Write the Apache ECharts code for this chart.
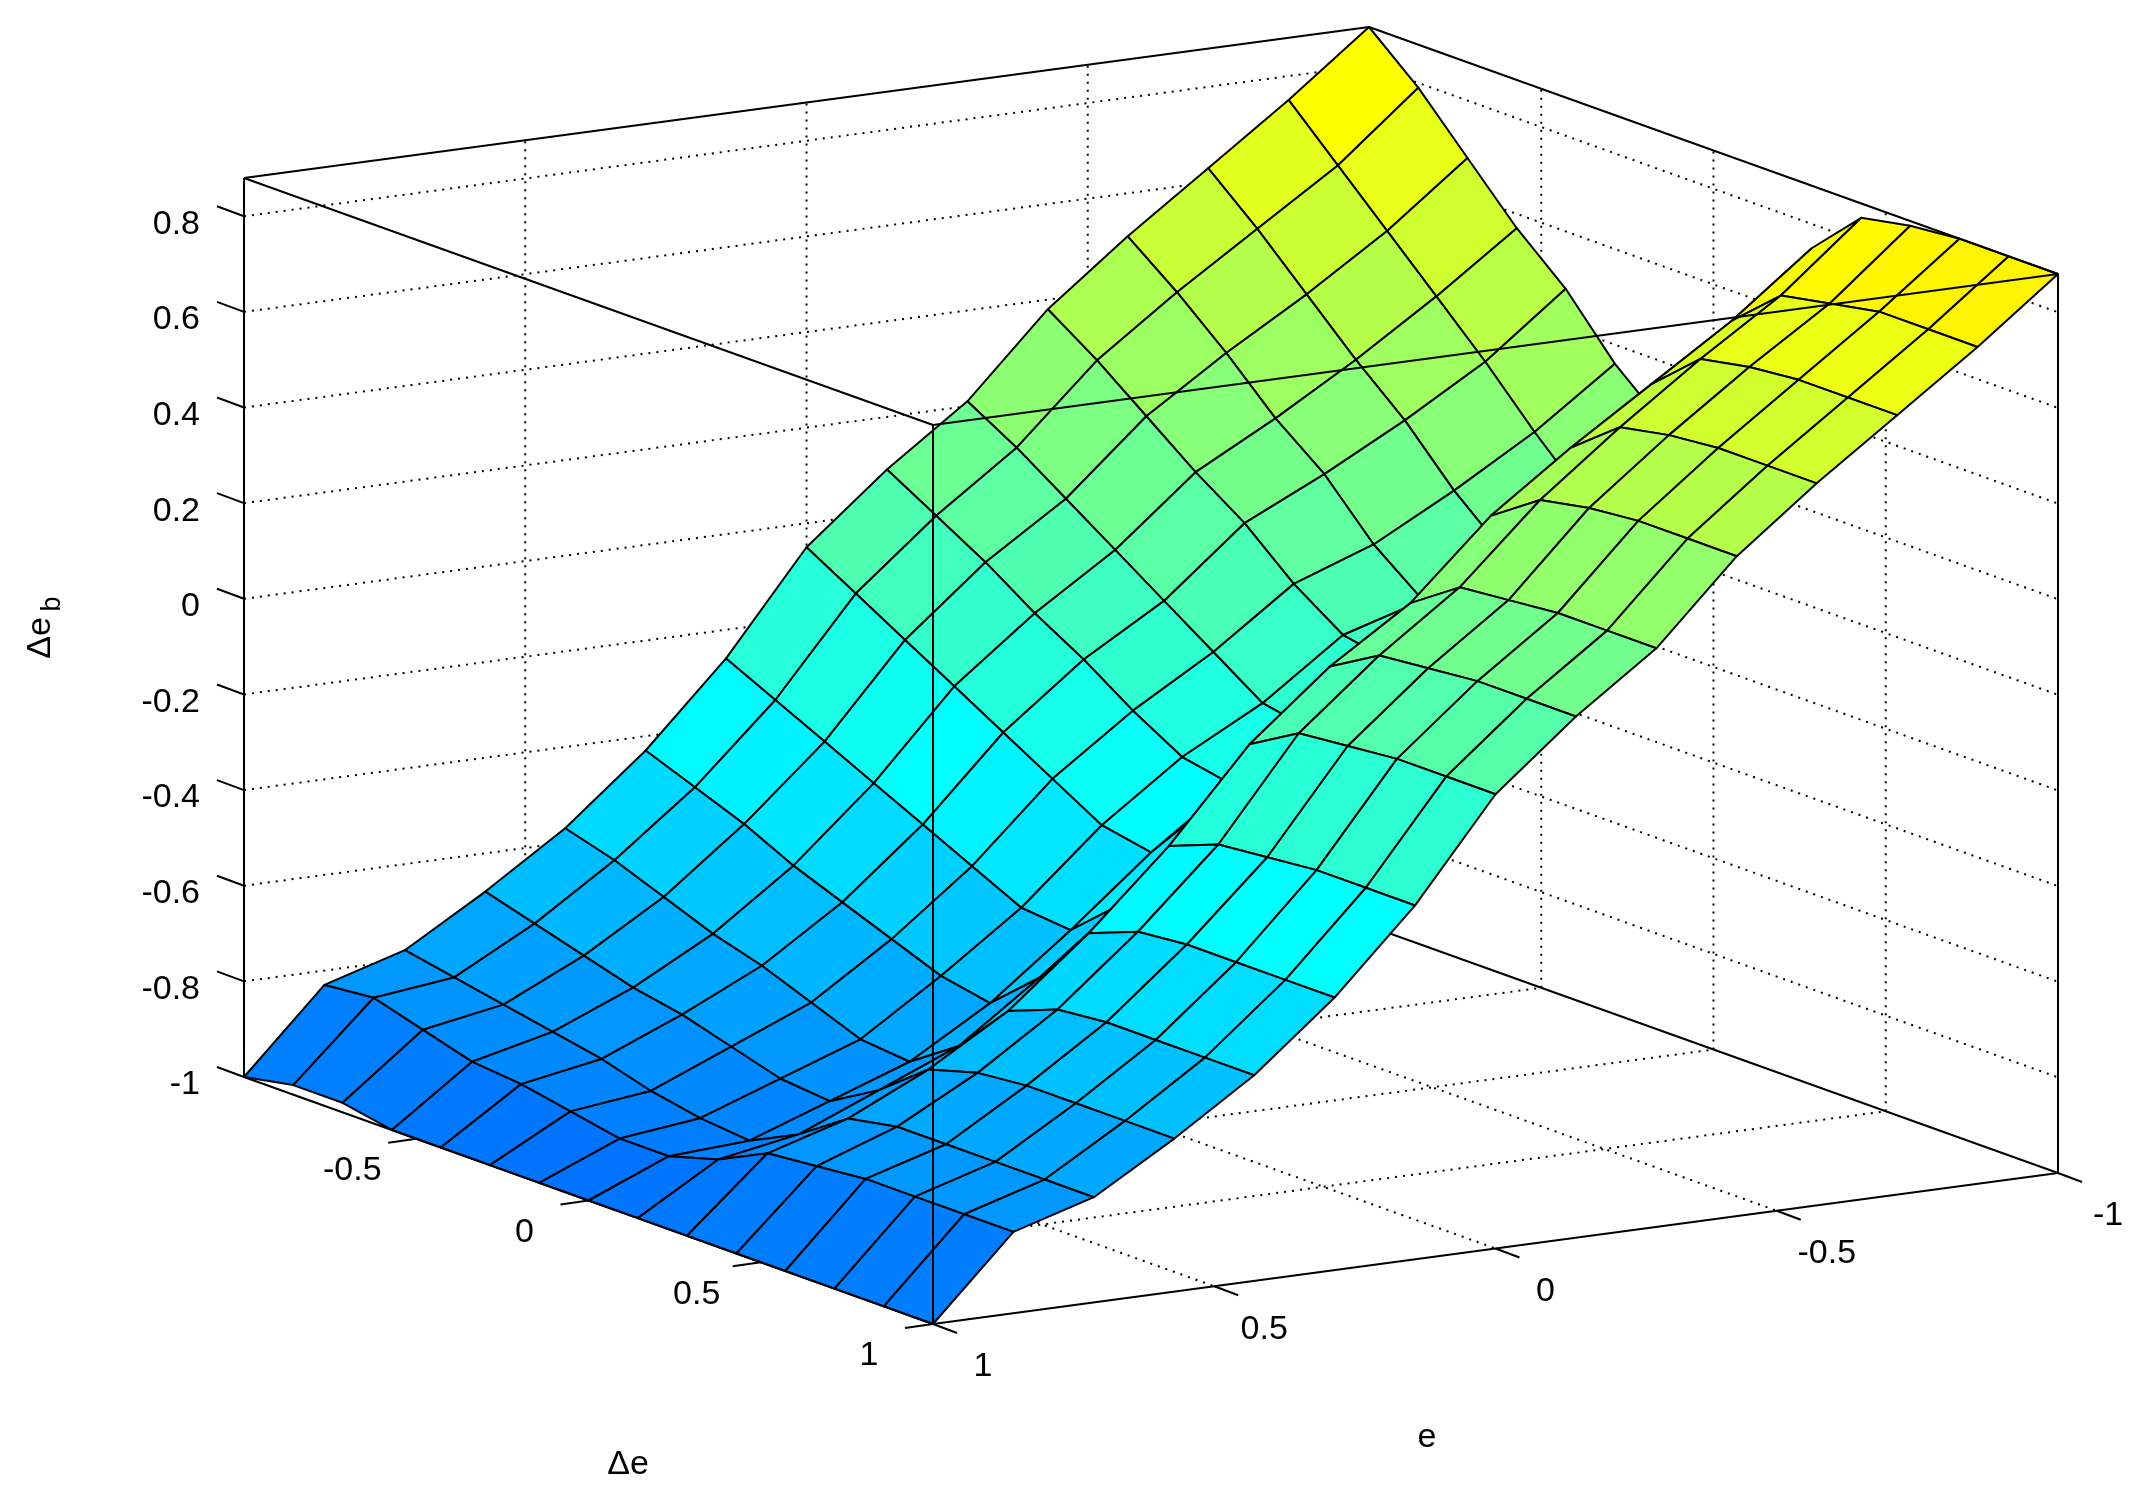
<!DOCTYPE html>
<html><head><meta charset="utf-8">
<script src="https://cdn.jsdelivr.net/npm/echarts@6/dist/echarts.min.js"></script>
<style>html,body{margin:0;background:#fff}#c{width:2152px;height:1507px}</style>
</head><body><div id="c"></div>
<script>
// Δe values (columns) and e values (rows), 15-point grid
const deVals = [-1,-0.857,-0.714,-0.571,-0.429,-0.286,-0.143,0,0.143,0.286,0.429,0.571,0.714,0.857,1];
const eVals  = [-1,-0.857,-0.714,-0.571,-0.429,-0.286,-0.143,0,0.143,0.286,0.429,0.571,0.714,0.857,1];
// Δe_b values: one row per e value, one column per Δe value
const Z = [
[.88,.79,.68,.57,.48,.36,.27,.23,.44,.75,.85,.87,.88,.88,.88],
[.75,.65,.55,.45,.35,.24,.14,.11,.31,.62,.71,.73,.75,.75,.75],
[.63,.54,.44,.34,.25,.14,.05,.02,.21,.51,.60,.62,.63,.63,.63],
[.51,.43,.34,.24,.16,.05,-.03,-.06,.12,.40,.48,.50,.51,.51,.51],
[.38,.31,.23,.15,.08,-.01,-.08,-.10,.05,.28,.35,.37,.38,.38,.38],
[.21,.15,.08,.01,-.06,-.13,-.20,-.22,-.08,.12,.19,.20,.21,.21,.21],
[.09,.03,-.03,-.10,-.16,-.23,-.29,-.31,-.18,.01,.07,.08,.09,.09,.09],
[-.05,-.11,-.17,-.23,-.29,-.35,-.41,-.43,-.31,-.13,-.07,-.06,-.05,-.05,-.05],
[-.26,-.31,-.36,-.41,-.46,-.51,-.56,-.57,-.48,-.32,-.28,-.27,-.26,-.26,-.26],
[-.43,-.47,-.51,-.56,-.60,-.64,-.68,-.70,-.61,-.48,-.44,-.43,-.43,-.43,-.43],
[-.57,-.60,-.64,-.68,-.71,-.75,-.79,-.80,-.73,-.62,-.58,-.57,-.57,-.57,-.57],
[-.68,-.71,-.74,-.77,-.79,-.82,-.85,-.86,-.80,-.72,-.69,-.68,-.68,-.68,-.68],
[-.78,-.80,-.82,-.84,-.86,-.89,-.91,-.92,-.87,-.80,-.78,-.78,-.78,-.78,-.78],
[-.83,-.82,-.85,-.88,-.89,-.91,-.93,-.93,-.90,-.85,-.84,-.83,-.83,-.83,-.83],
[-1,-.98,-.98,-1,-1,-1,-1,-1,-1,-1,-1,-1,-1,-1,-1]
];
const zTicks = [-1,-0.8,-0.6,-0.4,-0.2,0,0.2,0.4,0.6,0.8];
const zTickLabels = ['-1','-0.8','-0.6','-0.4','-0.2','0','0.2','0.4','0.6','0.8'];
const deTicks = [-0.5,0,0.5,1];
const deTickLabels = ['-0.5','0','0.5','1'];
const eTicks = [1,0.5,0,-0.5,-1];
const eTickLabels = ['1','0.5','0','-0.5','-1'];
const ZMIN = -1, ZMAX = 0.88;

const W = 2152, H = 1507;
function P(de, e, z) {
  const a = (de + 1) / 2, b = (1 - e) / 2, c = (z - ZMIN) / (ZMAX - ZMIN);
  return [244 + a * 689 + b * 1125, 1077 + a * 247 - b * 151 - c * 899];
}
function clamp(v){return Math.max(0,Math.min(1,v));}
function jet(z){
  const f = 0.23 + (z - ZMIN) / (ZMAX - ZMIN) * 0.42;
  const r = clamp(Math.min(4*f-1.5, -4*f+4.5)), g = clamp(Math.min(4*f-0.5, -4*f+3.5)), b = clamp(Math.min(4*f+0.5, -4*f+2.5));
  return 'rgb(' + Math.round(r*255) + ',' + Math.round(g*255) + ',' + Math.round(b*255) + ')';
}
const faces = [];
for (let i = 0; i < eVals.length - 1; i++) for (let j = 0; j < deVals.length - 1; j++) {
  faces.push([i, j, (eVals[i] + eVals[i+1] + deVals[j] + deVals[j+1]) / 2]);
}
faces.sort((a, b) => a[2] - b[2]);

const FONT = '34px "Liberation Sans", Arial, sans-serif';
function line(api, p1, p2, dotted, w) {
  const a = api.coord(p1), b = api.coord(p2);
  return {type:'line', shape:{x1:a[0],y1:a[1],x2:b[0],y2:b[1]},
    style:{stroke:'#000', lineWidth:w || 2, lineDash: dotted ? [2,6] : null}};
}
function text(api, p, s, align, va, dx, dy) {
  const a = api.coord(p);
  return {type:'text', x:a[0]+(dx||0), y:a[1]+(dy||0), style:{text:s, font:FONT, fill:'#000', align:align, verticalAlign:va}};
}

function renderBack(params, api) {
  const ch = [];
  zTicks.forEach(z => { if (z > ZMIN) {
    ch.push(line(api, P(-1,1,z), P(-1,-1,z), true));
    ch.push(line(api, P(-1,-1,z), P(1,-1,z), true));
  }});
  [0.5,0,-0.5].forEach(e => {
    ch.push(line(api, P(-1,e,ZMIN), P(-1,e,ZMAX), true));
    ch.push(line(api, P(-1,e,ZMIN), P(1,e,ZMIN), true));
  });
  [-0.5,0,0.5].forEach(d => {
    ch.push(line(api, P(d,-1,ZMIN), P(d,-1,ZMAX), true));
    ch.push(line(api, P(d,1,ZMIN), P(d,-1,ZMIN), true));
  });
  ch.push(line(api, P(-1,-1,ZMIN), P(-1,-1,ZMAX)));
  ch.push(line(api, P(-1,1,ZMIN), P(-1,-1,ZMIN)));
  ch.push(line(api, P(-1,-1,ZMIN), P(1,-1,ZMIN)));
  return {type:'group', children: ch};
}
function renderFace(params, api) {
  const i = api.value(0), j = api.value(1);
  const idx = [[i,j],[i,j+1],[i+1,j+1],[i+1,j]];
  const pts = idx.map(q => api.coord(P(deVals[q[1]], eVals[q[0]], Z[q[0]][q[1]])));
  const zc = idx.reduce((s,q) => s + Z[q[0]][q[1]], 0) / 4;
  return {type:'polygon', shape:{points:pts}, style:{fill:jet(zc), stroke:'#000', lineWidth:2, lineJoin:'round'}};
}
function renderFront(params, api) {
  const ch = [];
  const L0=P(-1,1,ZMIN), L1=P(-1,1,ZMAX), F0=P(1,1,ZMIN), F1=P(1,1,ZMAX), R0=P(1,-1,ZMIN), R1=P(1,-1,ZMAX), B1=P(-1,-1,ZMAX);
  [[L0,L1],[F0,F1],[R0,R1],[L0,F0],[F0,R0],[L1,F1],[F1,R1],[L1,B1],[B1,R1]].forEach(s => ch.push(line(api, s[0], s[1], false, 2)));
  zTicks.forEach((z, k) => {
    const p = P(-1,1,z);
    ch.push(line(api, p, [p[0]-27, p[1]-10], false, 2));
    ch.push(text(api, [200, p[1]], zTickLabels[k], 'right', 'middle', 0, 8));
  });
  deTicks.forEach((d, k) => {
    const p = P(d,1,ZMIN);
    ch.push(line(api, p, [p[0]-28, p[1]+4], false, 2));
    ch.push(text(api, p, deTickLabels[k], 'center', 'middle', -64, 32));
  });
  eTicks.forEach((e, k) => {
    const p = P(1,e,ZMIN);
    ch.push(line(api, p, [p[0]+24, p[1]+9], false, 2));
    ch.push(text(api, p, eTickLabels[k], 'center', 'middle', 50, 43));
  });
  ch.push(text(api, [628,1465], 'Δe', 'center', 'middle'));
  ch.push(text(api, [1427,1438], 'e', 'center', 'middle'));
  const yl = api.coord([41,638]);
  ch.push({type:'group', x:yl[0], y:yl[1], rotation:Math.PI/2, children:[
    {type:'text', x:0, y:0, style:{text:'Δe', font:FONT, fill:'#000', align:'center', verticalAlign:'middle'}},
    {type:'text', x:34, y:12, style:{text:'b', font:'27px "Liberation Sans", Arial, sans-serif', fill:'#000', align:'center', verticalAlign:'middle'}}
  ]});
  return {type:'group', children: ch};
}

const chart = echarts.init(document.getElementById('c'));
chart.setOption({
  animation:false,
  backgroundColor:'#fff',
  grid:{left:0,right:0,top:0,bottom:0},
  xAxis:{type:'value',min:0,max:W,show:false},
  yAxis:{type:'value',min:0,max:H,inverse:true,show:false},
  series:[
    {type:'custom', renderItem:renderBack, data:[[0,0]], clip:false, silent:true},
    {type:'custom', renderItem:renderFace, data:faces.map(f => [f[0], f[1]]), clip:false, silent:true},
    {type:'custom', renderItem:renderFront, data:[[0,0]], clip:false, silent:true}
  ]
});
</script></body></html>
